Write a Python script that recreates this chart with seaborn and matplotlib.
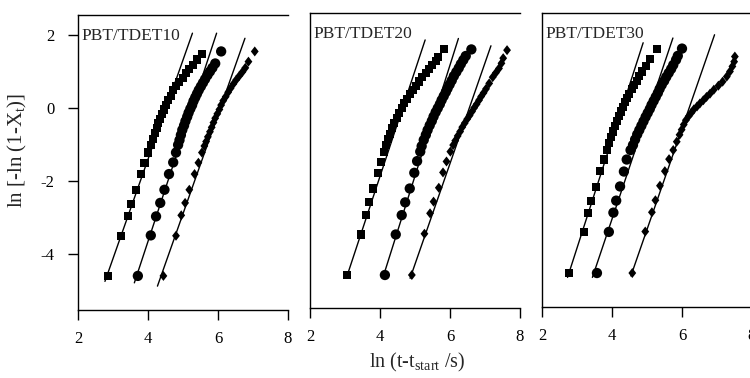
import numpy as np
import pandas as pd
import matplotlib
matplotlib.use("Agg")
import matplotlib.pyplot as plt
import seaborn as sns

sns.set_style("white")
plt.rcParams['font.family'] = ['Liberation Serif', 'DejaVu Serif']
plt.rcParams['mathtext.fontset'] = 'custom'
plt.rcParams['mathtext.rm'] = 'Liberation Serif'
plt.rcParams['mathtext.it'] = 'Liberation Serif:italic'

# ---------------- data ----------------
panel_titles = ["PBT/TDET10", "PBT/TDET20", "PBT/TDET30"]
x_ticks = [2, 4, 6, 8]
y_ticks = [-4, -2, 0, 2]

# PBT/TDET10
p1_sq_x = [2.87, 3.24, 3.43, 3.52, 3.65, 3.79, 3.90, 4.00, 4.08, 4.13, 4.20, 4.25, 4.29, 4.34, 4.39, 4.46, 4.51, 4.57, 4.65, 4.72, 4.80, 4.89, 4.99, 5.09, 5.18, 5.28, 5.39, 5.53]
p1_sq_y = [-4.60, -3.51, -2.97, -2.62, -2.25, -1.81, -1.50, -1.22, -1.01, -0.86, -0.69, -0.56, -0.42, -0.30, -0.16, -0.04, 0.08, 0.22, 0.33, 0.49, 0.60, 0.72, 0.83, 0.95, 1.06, 1.18, 1.33, 1.48]
p1_ci_x = [3.71, 4.08, 4.23, 4.35, 4.47, 4.60, 4.72, 4.80, 4.86, 4.90, 4.94, 4.98, 5.03, 5.07, 5.12, 5.16, 5.21, 5.26, 5.30, 5.35, 5.40, 5.45, 5.51, 5.57, 5.63, 5.70, 5.77, 5.84, 5.92, 6.09]
p1_ci_y = [-4.60, -3.49, -2.97, -2.60, -2.24, -1.81, -1.49, -1.22, -1.01, -0.88, -0.74, -0.60, -0.48, -0.36, -0.24, -0.13, -0.02, 0.08, 0.19, 0.29, 0.39, 0.49, 0.59, 0.69, 0.79, 0.90, 1.00, 1.10, 1.22, 1.55]
p1_di_x = [4.44, 4.80, 4.95, 5.06, 5.18, 5.33, 5.44, 5.54, 5.61, 5.66, 5.71, 5.77, 5.82, 5.87, 5.92, 5.98, 6.04, 6.09, 6.15, 6.22, 6.29, 6.36, 6.44, 6.52, 6.61, 6.70, 6.78, 6.87, 7.05]
p1_di_y = [-4.60, -3.50, -2.94, -2.60, -2.24, -1.81, -1.50, -1.22, -1.04, -0.92, -0.79, -0.65, -0.53, -0.40, -0.28, -0.16, -0.04, 0.08, 0.20, 0.31, 0.43, 0.54, 0.66, 0.77, 0.88, 0.99, 1.10, 1.27, 1.55]
p1_fit_sq = ([2.77, 5.27], [-4.75, 2.05])
p1_fit_ci = ([3.61, 5.96], [-4.79, 2.05])
p1_fit_di = ([4.27, 6.77], [-4.88, 1.91])

# PBT/TDET20
p2_sq_x = [3.07, 3.46, 3.59, 3.69, 3.81, 3.93, 4.03, 4.12, 4.17, 4.22, 4.29, 4.35, 4.41, 4.48, 4.54, 4.62, 4.69, 4.77, 4.86, 4.94, 5.03, 5.11, 5.21, 5.31, 5.40, 5.49, 5.59, 5.67, 5.82]
p2_sq_y = [-4.63, -3.52, -2.99, -2.64, -2.26, -1.84, -1.53, -1.27, -1.07, -0.90, -0.77, -0.61, -0.47, -0.34, -0.20, -0.06, 0.07, 0.20, 0.32, 0.44, 0.56, 0.67, 0.79, 0.90, 1.01, 1.12, 1.24, 1.35, 1.55]
p2_ci_x = [4.14, 4.45, 4.62, 4.72, 4.85, 4.98, 5.06, 5.15, 5.19, 5.25, 5.31, 5.36, 5.42, 5.48, 5.53, 5.59, 5.65, 5.71, 5.76, 5.82, 5.88, 5.93, 5.99, 6.05, 6.11, 6.18, 6.25, 6.31, 6.38, 6.45, 6.61]
p2_ci_y = [-4.63, -3.52, -2.99, -2.64, -2.26, -1.83, -1.51, -1.25, -1.10, -0.93, -0.79, -0.66, -0.53, -0.41, -0.29, -0.17, -0.06, 0.05, 0.16, 0.27, 0.38, 0.48, 0.59, 0.70, 0.82, 0.93, 1.04, 1.15, 1.26, 1.37, 1.55]
p2_di_x = [4.91, 5.27, 5.43, 5.53, 5.68, 5.80, 5.90, 6.01, 6.09, 6.15, 6.22, 6.29, 6.35, 6.42, 6.49, 6.56, 6.63, 6.69, 6.76, 6.83, 6.89, 6.96, 7.03, 7.12, 7.22, 7.31, 7.40, 7.47, 7.52, 7.63]
p2_di_y = [-4.63, -3.50, -2.94, -2.62, -2.24, -1.82, -1.52, -1.25, -1.07, -0.95, -0.82, -0.70, -0.58, -0.47, -0.36, -0.26, -0.15, -0.05, 0.05, 0.16, 0.26, 0.36, 0.47, 0.62, 0.79, 0.91, 1.03, 1.17, 1.31, 1.53]
p2_fit_sq = ([3.05, 5.29], [-4.68, 1.81])
p2_fit_ci = ([4.09, 6.24], [-4.68, 1.85])
p2_fit_di = ([4.86, 7.17], [-4.72, 1.65])

# PBT/TDET30
p3_sq_x = [2.78, 3.19, 3.31, 3.41, 3.54, 3.66, 3.77, 3.87, 3.92, 3.97, 4.03, 4.09, 4.14, 4.20, 4.26, 4.31, 4.37, 4.43, 4.49, 4.56, 4.63, 4.71, 4.78, 4.87, 4.96, 5.09, 5.29]
p3_sq_y = [-4.60, -3.47, -2.95, -2.61, -2.23, -1.80, -1.48, -1.22, -1.02, -0.86, -0.71, -0.57, -0.43, -0.29, -0.16, -0.04, 0.09, 0.21, 0.33, 0.46, 0.58, 0.69, 0.82, 0.94, 1.08, 1.28, 1.57]
p3_ci_x = [3.57, 3.91, 4.04, 4.12, 4.23, 4.34, 4.42, 4.53, 4.60, 4.66, 4.72, 4.78, 4.84, 4.90, 4.96, 5.02, 5.08, 5.13, 5.19, 5.25, 5.31, 5.36, 5.42, 5.49, 5.55, 5.62, 5.69, 5.75, 5.83, 5.88, 6.00]
p3_ci_y = [-4.60, -3.47, -2.94, -2.61, -2.22, -1.81, -1.48, -1.22, -1.08, -0.93, -0.79, -0.67, -0.55, -0.43, -0.31, -0.20, -0.09, 0.02, 0.13, 0.24, 0.35, 0.46, 0.57, 0.68, 0.79, 0.90, 1.01, 1.12, 1.26, 1.37, 1.57]
p3_di_x = [4.58, 4.95, 5.14, 5.24, 5.37, 5.51, 5.63, 5.75, 5.85, 5.93, 5.99, 6.05, 6.11, 6.19, 6.27, 6.34, 6.43, 6.51, 6.61, 6.70, 6.80, 6.91, 7.04, 7.16, 7.28, 7.37, 7.44, 7.49, 7.51]
p3_di_y = [-4.60, -3.46, -2.93, -2.60, -2.20, -1.80, -1.47, -1.22, -0.99, -0.80, -0.66, -0.52, -0.40, -0.29, -0.19, -0.10, -0.02, 0.06, 0.15, 0.24, 0.33, 0.44, 0.55, 0.66, 0.80, 0.94, 1.08, 1.21, 1.35]
p3_fit_sq = ([2.73, 4.89], [-4.72, 1.73])
p3_fit_ci = ([3.44, 5.74], [-4.72, 1.86])
p3_fit_di = ([4.54, 6.93], [-4.68, 1.95])

panels = [
    dict(sq=(p1_sq_x, p1_sq_y), ci=(p1_ci_x, p1_ci_y), di=(p1_di_x, p1_di_y),
         fits=dict(sq=p1_fit_sq, ci=p1_fit_ci, di=p1_fit_di)),
    dict(sq=(p2_sq_x, p2_sq_y), ci=(p2_ci_x, p2_ci_y), di=(p2_di_x, p2_di_y),
         fits=dict(sq=p2_fit_sq, ci=p2_fit_ci, di=p2_fit_di)),
    dict(sq=(p3_sq_x, p3_sq_y), ci=(p3_ci_x, p3_ci_y), di=(p3_di_x, p3_di_y),
         fits=dict(sq=p3_fit_sq, ci=p3_fit_ci, di=p3_fit_di)),
]

# ---------------- figure ----------------
W, H = 750, 378
fig = plt.figure(figsize=(W / 100, H / 100), dpi=100)
fig.patch.set_facecolor("white")

# axes boxes in pixels: left, top, right, bottom
boxes = [(78, 15, 288, 310), (310, 13, 520, 308), (542, 13, 752, 307)]

diamond = [(0, 1), (0.78, 0), (0, -1), (-0.78, 0), (0, 1)]
markers = {"sq": "s", "ci": "o", "di": diamond}
sizes = {"sq": 34, "ci": 55, "di": 52}

for i, (pan, box) in enumerate(zip(panels, boxes)):
    l, t, r, b = box
    ax = fig.add_axes([l / W, 1 - b / H, (r - l) / W, (b - t) / H])
    rows = []
    for key in ["sq", "ci", "di"]:
        xs, ys = pan[key]
        rows.append(pd.DataFrame({"x": xs, "y": ys, "series": key}))
    df = pd.concat(rows, ignore_index=True)

    frows = []
    for key, (fx, fy) in pan["fits"].items():
        frows.append(pd.DataFrame({"x": fx, "y": fy, "series": key}))
    fdf = pd.concat(frows, ignore_index=True)

    sns.lineplot(data=fdf, x="x", y="y", units="series", estimator=None,
                 sort=False, color="black", lw=1.0, ax=ax, legend=False)
    sns.scatterplot(data=df, x="x", y="y", style="series", markers=markers,
                    size="series", sizes=sizes, color="black", linewidth=0,
                    ax=ax, legend=False, zorder=3)

    ax.set_xlim(2, 8)
    ax.set_ylim(-5.534, 2.548)
    ax.set_xticks(x_ticks)
    ax.set_xticklabels([str(v) for v in x_ticks], fontsize=12)
    ax.set_xlabel("")
    ax.set_ylabel("")
    ax.tick_params(axis="x", direction="out", length=7, width=1, pad=8,
                   bottom=True, colors="black")
    if i == 0:
        ax.set_yticks(y_ticks)
        ax.set_yticklabels([str(v) for v in y_ticks], fontsize=12)
        ax.tick_params(axis="y", direction="out", length=7, width=1, pad=10,
                       left=True, colors="black")
    else:
        ax.set_yticks([])
    for side in ["left", "bottom", "top"]:
        ax.spines[side].set_visible(True)
        ax.spines[side].set_color("black")
        ax.spines[side].set_linewidth(1.0)
    ax.spines["right"].set_visible(False)
    ax.set_facecolor("white")
    ax.text(0.015, 0.957, panel_titles[i], transform=ax.transAxes,
            ha="left", va="top", fontsize=12.5)

fig.text(17 / W, 1 - 150 / H, "ln [-ln (1-X$_{\\mathrm{t}}$)]", rotation=90,
         ha="center", va="center", fontsize=15)
fig.text(417 / W, 1 - 362 / H, "ln (t-t$_{\\mathrm{start}}$ /s)",
         ha="center", va="center", fontsize=14.5)

fig.savefig("out.png", dpi=100, facecolor="white")
